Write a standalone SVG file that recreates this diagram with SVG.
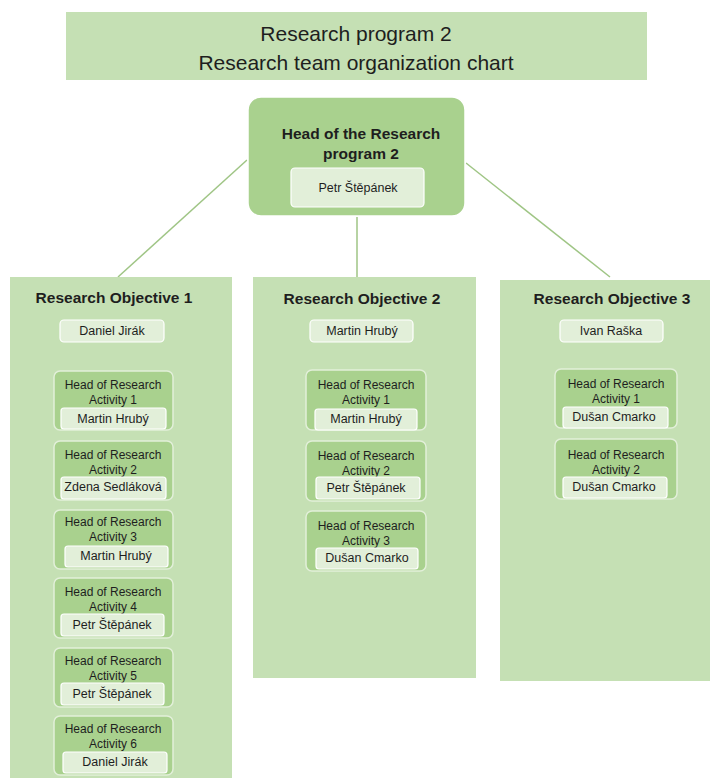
<svg xmlns="http://www.w3.org/2000/svg" width="710" height="778" viewBox="0 0 710 778">
  <style>
    text { font-family: "Liberation Sans", Arial, sans-serif; fill: #1e1e1e; text-anchor: middle; dominant-baseline: central; }
    .title { font-size: 21px; }
    .hd { font-size: 15.5px; font-weight: bold; }
    .obj { font-size: 15.5px; font-weight: bold; }
    .nm { font-size: 12.5px; }
    .act { font-size: 12px; }
    .band { fill: #c5e0b4; }
    .head { fill: #a9d18e; stroke: #ffffff; stroke-width: 1.5; }
    .actbox { fill: #a9d18e; stroke: #e2efd9; stroke-width: 1.5; }
    .namebox { fill: #e2efd9; stroke: #ffffff; stroke-width: 1.2; }
    .conn { stroke: #9fc585; stroke-width: 1.5; fill: none; }
  </style>

  <!-- title banner -->
  <g id="title">
    <rect class="band" x="66" y="12" width="581" height="68"/>
    <text class="title" x="356" y="33">Research program 2</text>
    <text class="title" x="356" y="62">Research team organization chart</text>
  </g>

  <!-- connectors from head to objectives -->
  <g id="connectors">
    <line class="conn" x1="247" y1="160" x2="118" y2="277"/>
    <line class="conn" x1="357" y1="217" x2="357" y2="277"/>
    <line class="conn" x1="466" y1="163" x2="610" y2="277"/>
  </g>

  <!-- head of program -->
  <g id="head">
    <rect class="head" x="248" y="97" width="217" height="119" rx="13"/>
    <text class="hd" x="361" y="133">Head of the Research</text>
    <text class="hd" x="361" y="153">program 2</text>
    <rect class="namebox" x="291" y="168" width="133" height="39" rx="4"/>
    <text class="nm" x="358" y="188">Petr Štěpánek</text>
  </g>

  <!-- objective 1 -->
  <g id="objective1">
    <rect class="band" x="10" y="277" width="222" height="510"/>
    <text class="obj" x="114" y="297">Research Objective 1</text>
    <rect class="namebox" x="60" y="320" width="104" height="22" rx="4"/>
    <text class="nm" x="112" y="331">Daniel Jirák</text>
  </g>
  <g id="o1a1">
    <rect class="actbox" x="54" y="371" width="119" height="59" rx="6"/>
    <text class="act" x="113" y="385">Head of Research</text>
    <text class="act" x="113" y="400">Activity 1</text>
    <rect class="namebox" x="61" y="408" width="105" height="21" rx="3"/>
    <text class="nm" x="113" y="419">Martin Hrubý</text>
  </g>
  <g id="o1a2">
    <rect class="actbox" x="54" y="441" width="119" height="59" rx="6"/>
    <text class="act" x="113" y="455">Head of Research</text>
    <text class="act" x="113" y="470">Activity 2</text>
    <rect class="namebox" x="61" y="477" width="105" height="22" rx="3"/>
    <text class="nm" x="113" y="487">Zdena Sedláková</text>
  </g>
  <g id="o1a3">
    <rect class="actbox" x="54" y="510" width="119" height="59" rx="6"/>
    <text class="act" x="113" y="522">Head of Research</text>
    <text class="act" x="113" y="537">Activity 3</text>
    <rect class="namebox" x="65" y="546" width="103" height="21" rx="3"/>
    <text class="nm" x="116" y="556">Martin Hrubý</text>
  </g>
  <g id="o1a4">
    <rect class="actbox" x="54" y="578" width="119" height="60" rx="6"/>
    <text class="act" x="113" y="592">Head of Research</text>
    <text class="act" x="113" y="607">Activity 4</text>
    <rect class="namebox" x="61" y="614" width="103" height="22" rx="3"/>
    <text class="nm" x="112" y="625">Petr Štěpánek</text>
  </g>
  <g id="o1a5">
    <rect class="actbox" x="54" y="648" width="119" height="59" rx="6"/>
    <text class="act" x="113" y="661">Head of Research</text>
    <text class="act" x="113" y="676">Activity 5</text>
    <rect class="namebox" x="61" y="683" width="103" height="22" rx="3"/>
    <text class="nm" x="112" y="694">Petr Štěpánek</text>
  </g>
  <g id="o1a6">
    <rect class="actbox" x="54" y="716" width="119" height="59" rx="6"/>
    <text class="act" x="113" y="729">Head of Research</text>
    <text class="act" x="113" y="744">Activity 6</text>
    <rect class="namebox" x="63" y="752" width="104" height="21" rx="3"/>
    <text class="nm" x="115" y="762">Daniel Jirák</text>
  </g>

  <!-- objective 2 -->
  <g id="objective2">
    <rect class="band" x="253" y="277" width="223" height="401"/>
    <text class="obj" x="362" y="298">Research Objective 2</text>
    <rect class="namebox" x="310" y="320" width="103" height="22" rx="4"/>
    <text class="nm" x="362" y="331">Martin Hrubý</text>
  </g>
  <g id="o2a1">
    <rect class="actbox" x="306" y="370" width="120" height="60" rx="6"/>
    <text class="act" x="366" y="385">Head of Research</text>
    <text class="act" x="366" y="400">Activity 1</text>
    <rect class="namebox" x="315" y="409" width="102" height="21" rx="3"/>
    <text class="nm" x="366" y="419">Martin Hrubý</text>
  </g>
  <g id="o2a2">
    <rect class="actbox" x="306" y="441" width="120" height="60" rx="6"/>
    <text class="act" x="366" y="456">Head of Research</text>
    <text class="act" x="366" y="471">Activity 2</text>
    <rect class="namebox" x="316" y="477" width="104" height="22" rx="3"/>
    <text class="nm" x="366" y="488">Petr Štěpánek</text>
  </g>
  <g id="o2a3">
    <rect class="actbox" x="306" y="511" width="120" height="60" rx="6"/>
    <text class="act" x="366" y="526">Head of Research</text>
    <text class="act" x="366" y="541">Activity 3</text>
    <rect class="namebox" x="316" y="548" width="102" height="21" rx="3"/>
    <text class="nm" x="367" y="558">Dušan Cmarko</text>
  </g>

  <!-- objective 3 -->
  <g id="objective3">
    <rect class="band" x="500" y="280" width="210" height="401"/>
    <text class="obj" x="612" y="298">Research Objective 3</text>
    <rect class="namebox" x="560" y="320" width="103" height="22" rx="4"/>
    <text class="nm" x="611" y="331">Ivan Raška</text>
  </g>
  <g id="o3a1">
    <rect class="actbox" x="555" y="369" width="122" height="59" rx="6"/>
    <text class="act" x="616" y="384">Head of Research</text>
    <text class="act" x="616" y="399">Activity 1</text>
    <rect class="namebox" x="563" y="407" width="105" height="21" rx="3"/>
    <text class="nm" x="614" y="417">Dušan Cmarko</text>
  </g>
  <g id="o3a2">
    <rect class="actbox" x="555" y="439" width="122" height="60" rx="6"/>
    <text class="act" x="616" y="455">Head of Research</text>
    <text class="act" x="616" y="470">Activity 2</text>
    <rect class="namebox" x="563" y="477" width="104" height="21" rx="3"/>
    <text class="nm" x="614" y="487">Dušan Cmarko</text>
  </g>
</svg>
